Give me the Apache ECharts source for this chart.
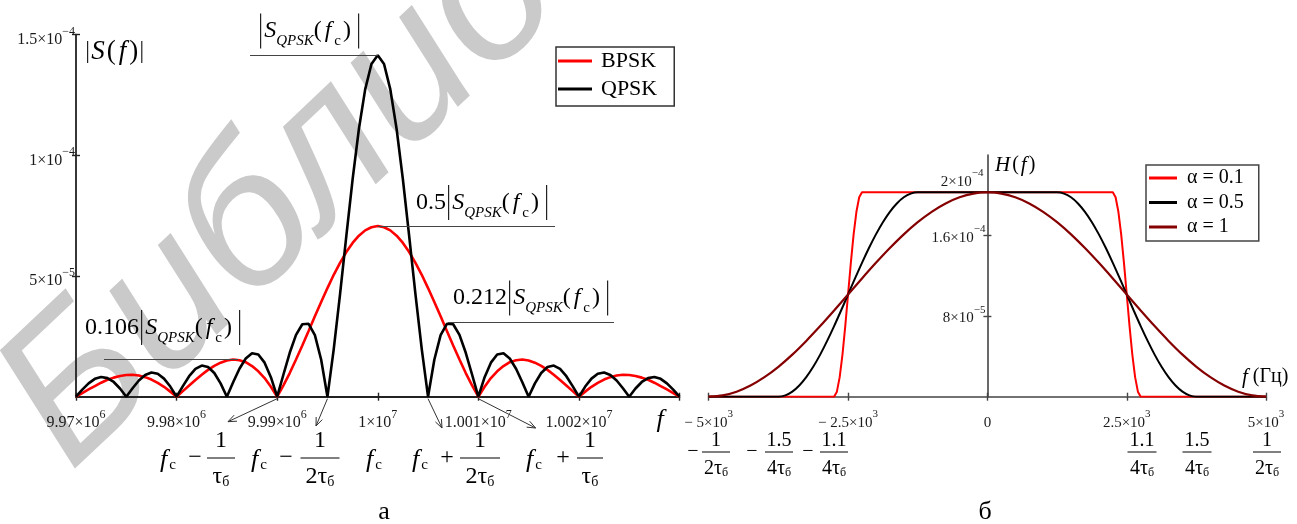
<!DOCTYPE html>
<html><head><meta charset="utf-8">
<script src="https://cdn.jsdelivr.net/npm/echarts@6/dist/echarts.min.js"></script>
<style>html,body{margin:0;padding:0;background:#fff}#c{width:1297px;height:524px}</style>
</head><body><div id="c"></div>
<script>
// ---------------- DATA ----------------
// Left panel: |S(f)| in units of 1e-5, sampled around the carrier
const carrierHz = 10000000;
const freqOffsetKHz = [
 -30,-29.375,-28.75,-28.125,-27.5,-26.875,-26.25,-25.625,
 -25,-24.375,-23.75,-23.125,-22.5,-21.875,-21.25,-20.625,
 -20,-19.375,-18.75,-18.125,-17.5,-16.875,-16.25,-15.625,
 -15,-14.375,-13.75,-13.125,-12.5,-11.875,-11.25,-10.625,
 -10,-9.375,-8.75,-8.125,-7.5,-6.875,-6.25,-5.625,
 -5,-4.375,-3.75,-3.125,-2.5,-1.875,-1.25,-0.625,
 0,
 0.625,1.25,1.875,2.5,3.125,3.75,4.375,5,
 5.625,6.25,6.875,7.5,8.125,8.75,9.375,10,
 10.625,11.25,11.875,12.5,13.125,13.75,14.375,15,
 15.625,16.25,16.875,17.5,18.125,18.75,19.375,20,
 20.625,21.25,21.875,22.5,23.125,23.75,24.375,25,
 25.625,26.25,26.875,27.5,28.125,28.75,29.375,30
];
const bpskVals = [
 0,0.15,0.30,0.44,0.58,0.70,0.79,0.86,0.90,0.91,
 0.88,0.81,0.71,0.57,0.41,0.21,0,
 0.23,0.46,0.69,0.91,1.11,1.28,1.41,1.50,1.54,1.51,1.43,1.27,1.05,0.77,0.41,0,
 0.47,0.98,1.54,2.12,2.72,3.33,3.92,4.50,5.05,5.54,5.99,6.37,6.67,6.89,7.02,
 7.07,
 7.02,6.89,6.67,6.37,5.99,5.54,5.05,4.50,3.92,3.33,2.72,2.12,1.54,0.98,0.47,0,
 0.41,0.77,1.05,1.27,1.43,1.51,1.54,1.50,1.41,1.28,1.11,0.91,0.69,0.46,0.23,0,
 0.21,0.41,0.57,0.71,0.81,0.88,0.91,0.90,0.86,0.79,0.70,0.58,0.44,0.30,0.15,0
];
const qpskVals = [
 0,0.29,0.55,0.74,0.82,0.77,0.61,0.34,
 0,0.35,0.67,0.90,1.00,0.95,0.75,0.42,
 0,0.44,0.85,1.15,1.29,1.23,0.98,0.55,
 0,0.60,1.16,1.58,1.80,1.75,1.41,0.81,
 0,0.92,1.82,2.56,3.00,3.02,2.55,1.53,
 0,1.97,4.24,6.65,9.00,11.09,12.73,13.78,
 14.14,
 13.78,12.73,11.09,9.00,6.65,4.24,1.97,0,
 1.53,2.55,3.02,3.00,2.56,1.82,0.92,0,
 0.81,1.41,1.75,1.80,1.58,1.16,0.60,0,
 0.55,0.98,1.23,1.29,1.15,0.85,0.44,0,
 0.42,0.75,0.95,1.00,0.90,0.67,0.35,0,
 0.34,0.61,0.77,0.82,0.74,0.55,0.29,0
];
const leftSeriesNames = ['BPSK','QPSK'];
const leftXTickVals = [9970000,9980000,9990000,10000000,10010000,10020000];
const leftXTickText = ['9.97×10','9.98×10','9.99×10','1×10','1.001×10','1.002×10'];
const leftXTickExp  = ['6','6','6','7','7','7'];
const leftYTickVals = [5,10,15];
const leftYTickText = ['5×10','1×10','1.5×10'];
const leftYTickExp  = ['−5','−4','−4'];
// leader lines: level values (1e-5) and frequency extents (Hz)
const leaderLevel = [14.14, 7.07, 3.07, 1.535];
const leaderFrom  = [9987300, 10000000, 10006986, 9972784];
const leaderTo    = [10000000, 10017624, 10023490, 9986107];
// arrows start at these spectral zeros (Hz)
const arrowFromHz = [9990000, 9995000, 10005000, 10010000];

// Right panel: H(f) in units of 1e-5
const rightSeriesNames = ['α = 0.1','α = 0.5','α = 1'];
const hA01F = [-5000,-2750,-2700,-2650,-2600,-2550,-2500,-2450,-2400,-2350,-2300,-2250,
               2250,2300,2350,2400,2450,2500,2550,2600,2650,2700,2750,5000];
const hA01V = [0,0,0.50,1.94,4.18,7.01,10.15,13.29,16.12,18.36,19.80,20.3,
               20.3,19.80,18.36,16.12,13.29,10.15,7.01,4.18,1.94,0.50,0,0];
const hA05F = [-5000,-3750,-3625,-3500,-3375,-3250,-3125,-3000,-2875,-2750,-2625,-2500,-2375,-2250,-2125,-2000,-1875,-1750,-1625,-1500,-1375,-1250,
               1250,1375,1500,1625,1750,1875,2000,2125,2250,2375,2500,2625,2750,2875,3000,3125,3250,3375,3500,3625,3750,5000];
const hA05V = [0,0,0.13,0.50,1.11,1.94,2.97,4.18,5.54,7.01,8.56,10.15,11.74,13.29,14.76,16.12,17.33,18.36,19.19,19.80,20.17,20.3,
               20.3,20.17,19.80,19.19,18.36,17.33,16.12,14.76,13.29,11.74,10.15,8.56,7.01,5.54,4.18,2.97,1.94,1.11,0.50,0.13,0,0];
const hA1F = [-5000,-4750,-4500,-4250,-4000,-3750,-3500,-3250,-3000,-2750,-2500,-2250,-2000,-1750,-1500,-1250,-1000,-750,-500,-250,
              0,250,500,750,1000,1250,1500,1750,2000,2250,2500,2750,3000,3250,3500,3750,4000,4250,4500,4750,5000];
const hA1V = [0,0.13,0.50,1.11,1.94,2.97,4.18,5.54,7.01,8.56,10.15,11.74,13.29,14.76,16.12,17.33,18.36,19.19,19.80,20.17,
              20.3,20.17,19.80,19.19,18.36,17.33,16.12,14.76,13.29,11.74,10.15,8.56,7.01,5.54,4.18,2.97,1.94,1.11,0.50,0.13,0];
const rightXTickVals = [-5000,-2500,0,2500,5000];
const rightXTickText = ['− 5×10','− 2.5×10','0','2.5×10','5×10'];
const rightXTickExp  = ['3','3','','3','3'];
const rightYLabelVals = [8,16];
const rightYLabelText = ['8×10','1.6×10'];
const rightYLabelExp  = ['−5','−4'];
const rightYTickVals = [8,16];
const rightTopLabel = {value:20, text:'2×10', exp:'−4'};

// ---------------- CHART ----------------
const SERIF = '"Liberation Serif","Times New Roman",serif';
const chart = echarts.init(document.getElementById('c'), null, {renderer:'canvas'});

function tickFormatter(vals, texts, exps){
  return function(v){
    const i = vals.findIndex(x => Math.abs(x - v) < 1e-6);
    if (i < 0) return '';
    return exps[i] ? `{m|${texts[i]}}{e|${exps[i]}}` : `{m|${texts[i]}}`;
  };
}
function supRich(fs, es){
  return {
    m:{fontFamily:SERIF,fontSize:fs,color:'#1a1a1a',lineHeight:28},
    e:{fontFamily:SERIF,fontSize:es,color:'#1a1a1a',verticalAlign:'top',lineHeight:12}
  };
}
const LAX = {color:'#222', width:1.8};
const RAX = {color:'#444', width:1.6};
const RIGHT_Y_SHIFT = -278.7; // y axis of the right panel sits at f = 0

const leftData = (vals) => freqOffsetKHz.map((o,i) => [carrierHz + o*1000, vals[i]]);
const pairs = (F,V) => F.map((f,i) => [f, V[i]]);

const option = {
  animation:false,
  backgroundColor:'#ffffff',
  grid:[
    {left:76, top:34.6, width:603.5, height:362.1},
    {left:708.7, top:155, width:557.4, height:241.7}
  ],
  xAxis:[
    {gridIndex:0, type:'value', min:9970000, max:10030000, interval:10000,
     axisLine:{show:true,onZero:false,lineStyle:LAX},
     axisTick:{show:true,length:4,lineStyle:{color:'#222',width:1.4}},
     axisLabel:{customValues:leftXTickVals, formatter:tickFormatter(leftXTickVals,leftXTickText,leftXTickExp), rich:supRich(16,12), margin:12},
     splitLine:{show:false}},
    {gridIndex:0, type:'value', position:'bottom', min:9970000, max:10030000, interval:10000,
     axisLine:{show:false,onZero:false}, axisTick:{show:true,inside:true,length:4,lineStyle:{color:'#222',width:1.4}},
     axisLabel:{show:false}, splitLine:{show:false}},
    {gridIndex:1, type:'value', min:-5000, max:5000, interval:2500,
     axisLine:{show:true,onZero:false,lineStyle:RAX},
     axisTick:{show:true,length:4,lineStyle:{color:'#444',width:1.4}},
     axisLabel:{customValues:rightXTickVals, formatter:tickFormatter(rightXTickVals,rightXTickText,rightXTickExp), rich:supRich(15,11), margin:12},
     splitLine:{show:false}},
    {gridIndex:1, type:'value', position:'bottom', min:-5000, max:5000, interval:2500,
     axisLine:{show:false,onZero:false}, axisTick:{show:true,inside:true,length:4,lineStyle:{color:'#444',width:1.4}},
     axisLabel:{show:false}, splitLine:{show:false}}
  ],
  yAxis:[
    {gridIndex:0, type:'value', min:0, max:15, interval:5,
     axisLine:{show:true,onZero:false,lineStyle:LAX},
     axisTick:{show:true,length:4,customValues:leftYTickVals,lineStyle:{color:'#222',width:1.4}},
     axisLabel:{customValues:leftYTickVals, formatter:tickFormatter(leftYTickVals,leftYTickText,leftYTickExp), rich:supRich(16,12), margin:1, padding:[10,0,0,0]},
     splitLine:{show:false}},
    {gridIndex:0, type:'value', position:'left', min:0, max:15, interval:5,
     axisLine:{show:false,onZero:false}, axisTick:{show:true,inside:true,length:4,customValues:leftYTickVals,lineStyle:{color:'#222',width:1.4}},
     axisLabel:{show:false}, splitLine:{show:false}},
    {gridIndex:1, type:'value', position:'left', offset:RIGHT_Y_SHIFT, min:0, max:24, interval:8,
     axisLine:{show:true,onZero:false,lineStyle:RAX},
     axisTick:{show:true,length:4,customValues:rightYTickVals,lineStyle:{color:'#444',width:1.4}},
     axisLabel:{customValues:rightYLabelVals, formatter:tickFormatter(rightYLabelVals,rightYLabelText,rightYLabelExp), rich:supRich(15,11), margin:2, padding:[4,0,0,0]},
     splitLine:{show:false}},
    {gridIndex:1, type:'value', position:'left', offset:RIGHT_Y_SHIFT, min:0, max:24, interval:8,
     axisLine:{show:false,onZero:false}, axisTick:{show:true,inside:true,length:4,customValues:rightYTickVals,lineStyle:{color:'#444',width:1.4}},
     axisLabel:{show:false}, splitLine:{show:false}}
  ],
  legend:[
    {data:leftSeriesNames, left:556, top:47, orient:'vertical', icon:'rect', itemWidth:34, itemHeight:3, itemGap:6,
     padding:[3,17,6,2], borderColor:'#333', borderWidth:1.5, backgroundColor:'#fff',
     textStyle:{fontFamily:SERIF,fontSize:22,color:'#000',lineHeight:22,padding:[0,0,0,4]}},
    {data:rightSeriesNames, left:1146, top:165, orient:'vertical', icon:'rect', itemWidth:28, itemHeight:3, itemGap:4.5,
     padding:[3,15,4,3], borderColor:'#444', borderWidth:1.5, backgroundColor:'#fff',
     textStyle:{fontFamily:SERIF,fontSize:20,color:'#000',lineHeight:20,padding:[0,0,0,5]}}
  ],
  series:[
    {name:leftSeriesNames[0], type:'line', xAxisIndex:0, yAxisIndex:0, data:leftData(bpskVals),
     showSymbol:false, color:'#ff0000', lineStyle:{color:'#ff0000',width:2.6}, z:3},
    {name:leftSeriesNames[1], type:'line', xAxisIndex:0, yAxisIndex:0, data:leftData(qpskVals),
     showSymbol:false, color:'#000000', lineStyle:{color:'#000000',width:2.6}, z:4,
     markLine:{silent:true, symbol:['none','none'], animation:false, label:{show:false},
       lineStyle:{color:'#444',width:1.2,type:'solid'},
       emphasis:{disabled:true},
       data: leaderLevel.map((lv,i) => [{coord:[leaderFrom[i], lv]}, {coord:[leaderTo[i], lv]}])}},
    {name:rightSeriesNames[0], type:'line', xAxisIndex:2, yAxisIndex:2, data:pairs(hA01F,hA01V),
     showSymbol:false, color:'#ff0000', lineStyle:{color:'#ff0000',width:2}, z:3},
    {name:rightSeriesNames[1], type:'line', xAxisIndex:2, yAxisIndex:2, data:pairs(hA05F,hA05V), smooth:0.3,
     showSymbol:false, color:'#000000', lineStyle:{color:'#000000',width:2}, z:4},
    {name:rightSeriesNames[2], type:'line', xAxisIndex:2, yAxisIndex:2, data:pairs(hA1F,hA1V), smooth:0.3,
     showSymbol:false, color:'#850000', lineStyle:{color:'#850000',width:2.2}, z:5}
  ]
};
chart.setOption(option);

// ---------------- ANNOTATIONS ----------------
const G = echarts.graphic;
const zr = chart.getZr();
function addText(x, y, text, opt){
  opt = opt || {};
  zr.add(new G.Text({
    z: opt.z != null ? opt.z : 50,
    x: opt.ex || 0, y: opt.ey || 0, rotation: opt.rot || 0,
    style: {x:x, y:y, text:text, rich:opt.rich, align:opt.align||'left', verticalAlign:opt.va||'middle',
            fill:opt.fill||'#000', font:opt.font || ('24px ' + SERIF)}
  }));
}
function addLine(x1,y1,x2,y2,color,w){
  zr.add(new G.Line({z:50, shape:{x1,y1,x2,y2}, style:{stroke:color||'#000', lineWidth:w||1}}));
}
function addArrow(x1,y1,x2,y2){
  addLine(x1,y1,x2,y2,'#333',1);
  const a = Math.atan2(y2-y1, x2-x1), L = 9, w = 0.38;
  zr.add(new G.Polyline({z:50, shape:{points:[
    [x2 - L*Math.cos(a-w), y2 - L*Math.sin(a-w)], [x2,y2], [x2 - L*Math.cos(a+w), y2 - L*Math.sin(a+w)]]},
    style:{stroke:'#333', lineWidth:1, fill:null}}));
}

// watermark
addText(0, 0, 'Библиотека', {z:-5, ex:101, ey:505, rot:0.757, va:'bottom',
  font:'italic 200px "Liberation Sans", Arial, sans-serif', fill:'#cacaca'});

// top label of the right y axis (placed above the 2e-4 level, without a tick)
{
  const p = chart.convertToPixel({xAxisIndex:2, yAxisIndex:2}, [0, rightTopLabel.value]);
  addText(p[0] - 4, p[1] - 13.5, `{m|${rightTopLabel.text}}{e|${rightTopLabel.exp}}`, {align:'right', rich:{
    m:{fontFamily:SERIF,fontSize:15,fill:'#1a1a1a',lineHeight:28},
    e:{fontFamily:SERIF,fontSize:11,fill:'#1a1a1a',verticalAlign:'top',lineHeight:12}}});
}

// label rich styles
const annoRich = {
  n:{fontFamily:SERIF,fontSize:24,fill:'#000',lineHeight:36},
  i:{fontFamily:SERIF,fontSize:24,fontStyle:'italic',fill:'#000',lineHeight:36},
  q:{fontFamily:SERIF,fontSize:15,fontStyle:'italic',fill:'#000',lineHeight:15,verticalAlign:'bottom'},
  c:{fontFamily:SERIF,fontSize:15,fill:'#000',lineHeight:15,verticalAlign:'bottom'},
  bar:{width:1.2,height:35,backgroundColor:'#222',lineHeight:36},
  g2:{width:2,lineHeight:36}, g3:{width:3,lineHeight:36}, g7:{width:7,lineHeight:36}
};
const sq = '{bar| }{g3| }{i|S}{q|QPSK}{n|(}{g3| }{i|f}{g3| }{c|c}{g2| }{n|)}{g7| }{bar| }';
addText(260, 31, sq, {rich:annoRich});
addText(416, 202.5, '{n|0.5}{g2| }' + sq, {rich:annoRich});
addText(453, 298, '{n|0.212}{g2| }' + sq, {rich:annoRich});
addText(85, 327.5, '{n|0.106}{g2| }' + sq, {rich:annoRich});

const sfRich = {
  n:{fontFamily:SERIF,fontSize:27,fill:'#000',lineHeight:26},
  i:{fontFamily:SERIF,fontSize:27,fontStyle:'italic',fill:'#000',lineHeight:26},
  bar:{width:1.2,height:22,backgroundColor:'#222',lineHeight:26},
  g2:{width:2}, g3:{width:3}
};
addText(87, 52, '{bar| }{g3| }{i|S}{g2| }{n|(}{g3| }{i|f}{g3| }{n|)}{g3| }{bar| }', {rich:sfRich});

// axis names
addText(660, 420, 'f', {align:'center', font:'italic 26px ' + SERIF});
const hRich = {
  i:{fontFamily:SERIF,fontSize:21,fontStyle:'italic',fill:'#000',lineHeight:22},
  n:{fontFamily:SERIF,fontSize:20,fill:'#000',lineHeight:22},
  g2:{width:2}
};
addText(995, 165, '{i|H}{g2| }{n|(}{g2| }{i|f}{g2| }{n|)}', {rich:hRich});
addText(1242, 377, '{i|f}{n| (Гц)}', {rich:hRich});

// panel captions
addText(384, 512, 'а', {align:'center', font:'26px ' + SERIF});
addText(985, 512, 'б', {align:'center', font:'26px ' + SERIF});

// arrows from spectral zeros to the formula labels
const arrowTips = [[228,421.7],[316,426],[442,428],[535.6,428]];
arrowFromHz.forEach((hz,i) => {
  const p = chart.convertToPixel({xAxisIndex:0, yAxisIndex:0}, [hz, 0]);
  addArrow(p[0], p[1] + 2, arrowTips[i][0], arrowTips[i][1]);
});

// formula row under the left panel
const fRich = {
  fi:{fontFamily:SERIF,fontSize:26,fontStyle:'italic',fill:'#000',lineHeight:26},
  fs:{fontFamily:SERIF,fontSize:15,fill:'#000',lineHeight:15,verticalAlign:'bottom'},
  t:{fontFamily:SERIF,fontSize:24,fill:'#000',lineHeight:24},
  ts:{fontFamily:SERIF,fontSize:14,fill:'#000',lineHeight:10,verticalAlign:'bottom'},
  g2:{width:2}
};
const fcText = '{fi|f}{g2| }{fs|c}';
function frac(cx, yBar, num, den, rich, numDy, denDy, barW, numFont){
  addText(cx, yBar + numDy, num, {align:'center', font:numFont});
  addLine(cx - barW/2, yBar, cx + barW/2, yBar, '#000', 1);
  addText(cx, yBar + denDy, den, {align:'center', rich:rich});
}
const LB = 458;
addText(160, 460, fcText, {rich:fRich});
addText(195, LB, '−', {align:'center', font:'24px ' + SERIF});
frac(221, LB, '1', '{t|τ}{ts|б}', fRich, -17, 19, 28, '24px ' + SERIF);
addText(251, 460, fcText, {rich:fRich});
addText(286, LB, '−', {align:'center', font:'24px ' + SERIF});
frac(320, LB, '1', '{t|2τ}{ts|б}', fRich, -17, 19, 39, '24px ' + SERIF);
addText(366, 460, fcText, {rich:fRich});
addText(412, 460, fcText, {rich:fRich});
addText(447, LB, '+', {align:'center', font:'24px ' + SERIF});
frac(480, LB, '1', '{t|2τ}{ts|б}', fRich, -17, 19, 40, '24px ' + SERIF);
addText(526, 460, fcText, {rich:fRich});
addText(563, LB, '+', {align:'center', font:'24px ' + SERIF});
frac(590, LB, '1', '{t|τ}{ts|б}', fRich, -17, 19, 26, '24px ' + SERIF);

// formula row under the right panel
const rRich = {
  t:{fontFamily:SERIF,fontSize:20,fill:'#000',lineHeight:20},
  ts:{fontFamily:SERIF,fontSize:12,fill:'#000',lineHeight:6,verticalAlign:'bottom'}
};
const RB = 452, RF = '20px ' + SERIF;
addText(693, RB, '−', {align:'center', font:RF});
frac(716, RB, '1', '{t|2τ}{ts|б}', rRich, -11, 17, 28, RF);
addText(752, RB, '−', {align:'center', font:RF});
frac(779, RB, '1.5', '{t|4τ}{ts|б}', rRich, -11, 17, 28, RF);
addText(808, RB, '−', {align:'center', font:RF});
frac(834, RB, '1.1', '{t|4τ}{ts|б}', rRich, -11, 17, 28, RF);
frac(1142, RB, '1.1', '{t|4τ}{ts|б}', rRich, -11, 17, 29, RF);
frac(1197, RB, '1.5', '{t|4τ}{ts|б}', rRich, -11, 17, 29, RF);
frac(1267, RB, '1', '{t|2τ}{ts|б}', rRich, -11, 17, 28, RF);
</script>
</body></html>
